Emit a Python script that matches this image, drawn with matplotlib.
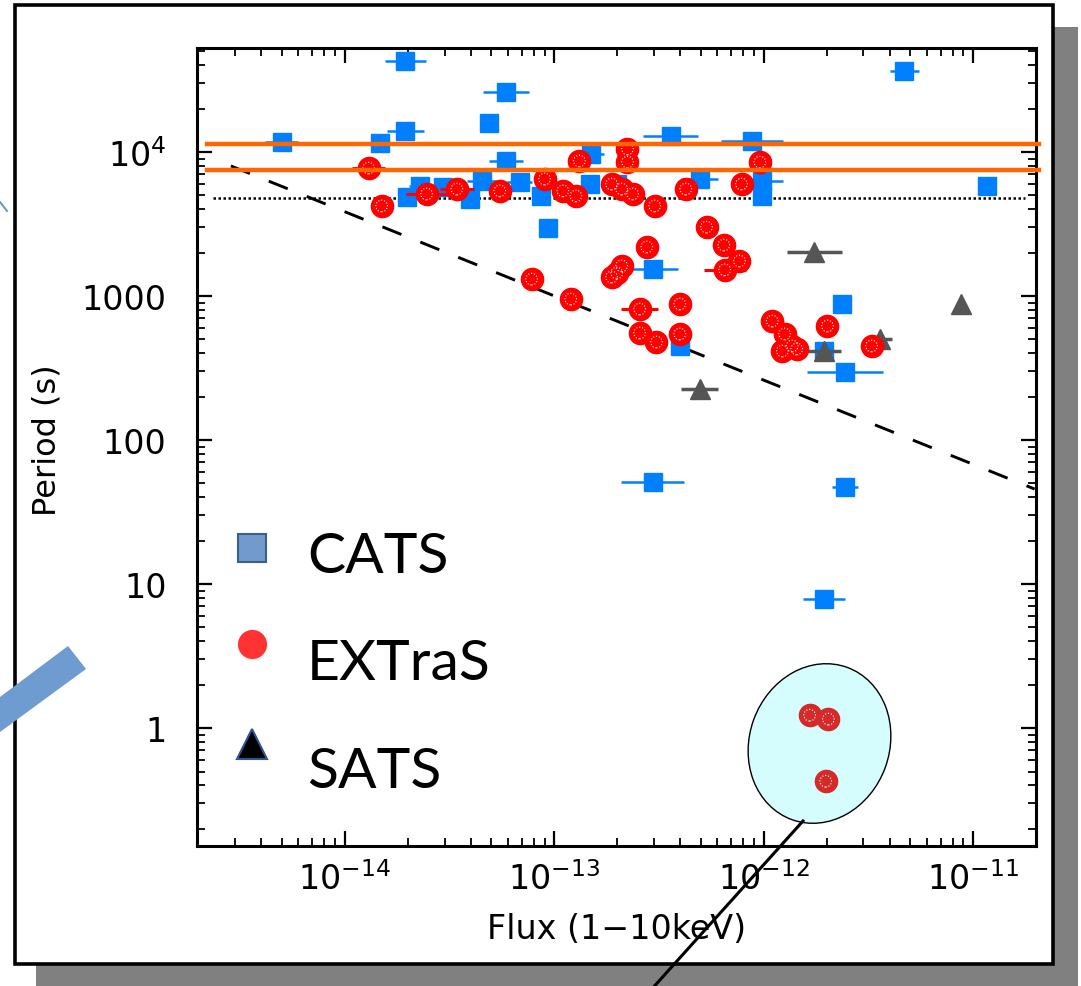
import numpy as np
import matplotlib
matplotlib.use('Agg')
import matplotlib.pyplot as plt
from matplotlib.patches import Rectangle, Ellipse, Polygon
from matplotlib.lines import Line2D
import matplotlib.transforms as mtransforms
from matplotlib.ticker import LogLocator, FixedLocator, FixedFormatter, NullFormatter

plt.rcParams['font.family'] = ['DejaVu Sans']
plt.rcParams['mathtext.fontset'] = 'dejavusans'

# ---------------- data ----------------
cats_flux = [5.0e-15, 1.95e-14, 1.95e-14, 1.47e-14, 5.9e-14, 4.9e-14, 5.9e-14, 3.6e-13,
             8.8e-13, 1.5e-13, 4.7e-12, 1.17e-11, 9.3e-14, 2.96e-13, 2.96e-13, 2.36e-12,
             2.45e-12, 2.45e-12, 1.95e-12, 1.95e-12, 3.98e-13, 9.8e-13, 9.8e-13, 1.98e-14,
             2.28e-14, 2.94e-14, 3.95e-14, 4.51e-14, 6.84e-14, 8.7e-14, 1.48e-13, 2.0e-13,
             4.95e-13]
cats_period = [11700, 42800, 14000, 11500, 26100, 15900, 8660, 12900,
               11900, 9700, 36500, 5800, 2970, 1540, 51, 880,
               297, 47, 7.9, 415, 450, 6290, 4950, 4870,
               5800, 5710, 4720, 6290, 6190, 4950, 5990, 5990,
               6490]
cats_err_dex = [0.08, 0.10, 0.09, 0.14, 0.11, 0.0, 0.08, 0.13,
                0.15, 0.06, 0.07, 0.0, 0.02, 0.12, 0.15, 0.0,
                0.18, 0.06, 0.10, 0.0, 0.0, 0.10, 0.0, 0.0,
                0.05, 0.0, 0.0, 0.07, 0.06, 0.0, 0.0, 0.0,
                0.09]

extras_flux = [1.30e-14, 1.50e-14, 2.46e-14, 3.43e-14, 5.5e-14, 9.0e-14, 1.10e-13, 1.27e-13,
               1.32e-13, 1.88e-13, 2.10e-13, 2.24e-13, 2.24e-13, 2.37e-13, 3.02e-13, 4.25e-13,
               7.85e-13, 9.6e-13, 5.34e-13, 6.46e-13, 7.67e-13, 6.52e-13, 2.77e-13, 2.10e-13,
               1.99e-13, 1.88e-13, 7.8e-14, 1.20e-13, 2.56e-13, 3.98e-13, 2.56e-13, 3.08e-13,
               3.98e-13, 1.10e-12, 1.26e-12, 1.37e-12, 1.23e-12, 1.44e-12, 2.02e-12, 3.28e-12]
extras_period = [7730, 4220, 5110, 5530, 5370, 6490, 5370, 4950,
                 8660, 5990, 5530, 10500, 8510, 5110, 4220, 5530,
                 5990, 8510, 3010, 2260, 1750, 1520, 2190, 1620,
                 1445, 1355, 1310, 953, 812, 880, 554, 479,
                 545, 670, 545, 450, 415, 429, 619, 450]
extras_err_dex = [0.08, 0.0, 0.10, 0.08, 0.0, 0.0, 0.0, 0.0,
                  0.0, 0.0, 0.0, 0.0, 0.0, 0.0, 0.0, 0.0,
                  0.0, 0.0, 0.0, 0.0, 0.0, 0.10, 0.0, 0.0,
                  0.0, 0.0, 0.0, 0.0, 0.09, 0.0, 0.0, 0.0,
                  0.0, 0.0, 0.0, 0.0, 0.0, 0.0, 0.0, 0.0]
# fast EXTraS pulsators (highlighted in the ellipse)
extras_fast_flux = [1.66e-12, 2.04e-12, 1.98e-12]
extras_fast_period = [1.23, 1.155, 0.428]

sats_flux = [1.75e-12, 8.8e-12, 3.58e-12, 1.95e-12, 4.95e-13]
sats_period = [2020, 880, 503, 415, 226]
sats_err_dex = [0.13, 0.0, 0.06, 0.08, 0.09]

orange_periods = [11370, 7500]
dotted_period = 4790
dashed_flux = [2.86e-15, 1.97e-11]
dashed_period = [8000, 45.7]

legend_names = ['CATS', 'EXTraS', 'SATS']
ytick_vals = [1, 10, 100, 1000, 1e4]
ytick_labels = ['1', '10', '100', '1000', r'$10^4$']
xtick_vals = [1e-14, 1e-13, 1e-12, 1e-11]
xtick_labels = [r'$10^{-14}$', r'$10^{-13}$', r'$10^{-12}$', r'$10^{-11}$']

# ---------------- figure ----------------
W, H = 1081, 987
fig = plt.figure(figsize=(W / 100, H / 100), dpi=100)
fig.patch.set_facecolor('white')


def fx(px):
    return px / W


def fy(py):
    return 1 - py / H


# slide shadow and frame
fig.patches.append(Rectangle((fx(36), fy(995)), fx(1078) - fx(36), fy(28) - fy(995),
                             transform=fig.transFigure, facecolor='#808080',
                             edgecolor='none', zorder=-3))
fig.patches.append(Rectangle((fx(15), fy(965)), fx(1053) - fx(15), fy(6) - fy(965),
                             transform=fig.transFigure, facecolor='white',
                             edgecolor='black', linewidth=2.6, zorder=-2))

ax = fig.add_axes([197 / W, 1 - 847 / H, 839 / W, 798 / H])
ax.set_facecolor('white')
ax.set_xscale('log')
ax.set_yscale('log')


def xerrs(flux, dex):
    f = np.asarray(flux)
    d = np.asarray(dex)
    return np.vstack([f - f * 10 ** (-d), f * 10 ** d - f])


BLUE = '#0080FF'
RED = '#FF0000'
GRAY = '#555555'

# reference lines
for p in orange_periods:
    ax.plot([2.2e-15, 2.07e-11], [p, p], color='#FF6600', lw=3.2, clip_on=False, zorder=4)
ax.plot([2.34e-15, 1.77e-11], [dotted_period, dotted_period], color='black', lw=1.8,
        ls=(0, (1, 1)), zorder=1.6)
ax.plot(dashed_flux, dashed_period, color='black', lw=2.1, ls=(0, (7, 7)), zorder=1.6)

# data
ax.errorbar(cats_flux, cats_period, xerr=xerrs(cats_flux, cats_err_dex), fmt='s',
            color=BLUE, ms=13, mec=BLUE, elinewidth=1.8, capsize=0, zorder=2)
ax.errorbar(sats_flux, sats_period, xerr=xerrs(sats_flux, sats_err_dex), fmt='^',
            color=GRAY, ms=14, mec=GRAY, elinewidth=2.5, capsize=0, zorder=2.2)
ax.errorbar(extras_flux, extras_period, xerr=xerrs(extras_flux, extras_err_dex), fmt='o',
            color=RED, ms=16, mec=RED, elinewidth=2.2, capsize=0, zorder=2.4)
ax.scatter(extras_flux, extras_period, s=70, facecolors='none', edgecolors='white',
           linewidths=0.8, linestyles=':', zorder=2.5)

# highlight ellipse (annotation in pixel space)
ell = Ellipse((819.5, H - 744.5), 140, 162, angle=-20,
              transform=mtransforms.IdentityTransform(), facecolor='#D5FDFE',
              edgecolor='black', lw=1.0, zorder=1.5, clip_on=False)
ax.add_patch(ell)
ax.plot(extras_fast_flux, extras_fast_period, 'o', color='#D42A2A', ms=16, zorder=2.4)
ax.scatter(extras_fast_flux, extras_fast_period, s=70, facecolors='none', edgecolors='white',
           linewidths=0.8, linestyles=':', zorder=2.5)

ax.set_xlim(1.97e-15, 2.0e-11)
ax.set_ylim(0.152, 52700)

ax.yaxis.set_major_locator(FixedLocator(ytick_vals))
ax.yaxis.set_major_formatter(FixedFormatter(ytick_labels))
ax.yaxis.set_minor_locator(LogLocator(base=10, subs=np.arange(2, 10), numticks=100))
ax.yaxis.set_minor_formatter(NullFormatter())
ax.xaxis.set_major_locator(FixedLocator(xtick_vals))
ax.xaxis.set_major_formatter(FixedFormatter(xtick_labels))
ax.xaxis.set_minor_locator(LogLocator(base=10, subs=np.arange(2, 10), numticks=100))
ax.xaxis.set_minor_formatter(NullFormatter())

ax.tick_params(which='both', direction='in', top=True, right=True, labelsize=24)
ax.tick_params(which='major', length=11, width=1.6)
ax.tick_params(which='minor', length=6, width=1.3)
ax.tick_params(axis='y', which='major', pad=22)
ax.tick_params(axis='x', which='major', pad=11)
for s in ax.spines.values():
    s.set_linewidth(2.2)

ax.set_xlabel('Flux (1\u221210keV)', fontsize=24)
ax.set_ylabel('Period (s)', fontsize=23)
ax.xaxis.set_label_coords(0.5006, -0.104)
ax.xaxis.label.set_verticalalignment('center')
ax.yaxis.set_label_coords(-0.179, 0.51)
ax.yaxis.label.set_verticalalignment('center')
ax.yaxis.label.set_horizontalalignment('center')

# slide-style legend
leg_marker_y = [0.3734, 0.2531, 0.1278]
leg_text_y = [0.3434, 0.2093, 0.0739]
leg_styles = [dict(marker='s', mfc='#729ACC', mec='#3A5F94', ms=20, mew=1.5),
              dict(marker='o', mfc='#FF3333', mec='#FF3333', ms=21, mew=0),
              dict(marker='^', mfc='black', mec='#2F5597', ms=22, mew=1.5)]
for name, my, ty, st in zip(legend_names, leg_marker_y, leg_text_y, leg_styles):
    ax.plot([0.0656], [my], transform=ax.transAxes, ls='none', clip_on=False, zorder=6, **st)
    ax.text(0.1311, ty, name, transform=ax.transAxes, fontsize=41, va='baseline',
            ha='left', family=['Lato', 'DejaVu Sans'], zorder=6)

# connector line from ellipse and decorative shapes
fig.add_artist(Line2D([803, 650], [H - 822, H - 992], color='black', lw=2.2,
                      transform=mtransforms.IdentityTransform(), zorder=10))
fig.add_artist(Polygon([(68, H - 647), (86, H - 670), (0, H - 733), (0, H - 698)],
                       closed=True, facecolor='#6E9BD0', edgecolor='none',
                       transform=mtransforms.IdentityTransform(), zorder=10))
fig.add_artist(Line2D([0, 7], [H - 203, H - 212], color='#6E9BD0', lw=1.5,
                      transform=mtransforms.IdentityTransform(), zorder=10))

fig.savefig('out.png', dpi=100)
